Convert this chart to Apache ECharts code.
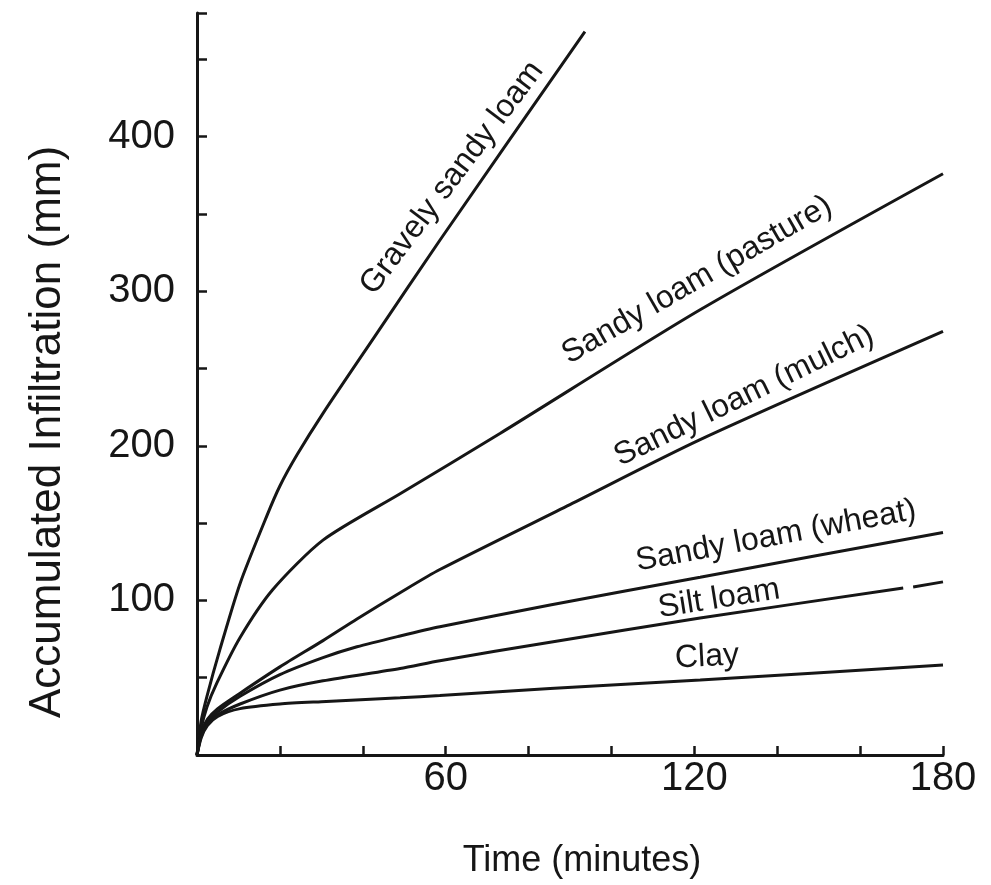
<!DOCTYPE html>
<html>
<head>
<meta charset="utf-8">
<script src="https://cdn.jsdelivr.net/npm/echarts@6/dist/echarts.min.js"></script>
<style>
html,body{margin:0;padding:0;background:#fff;}
#chart{width:991px;height:885px;}
</style>
</head>
<body>
<div id="chart"></div>
<script>
// ---- data (time in minutes, accumulated infiltration in mm) ----
const gravelyT = [0, 1, 2.4, 5.5, 10.4, 16.9, 20.0, 24.1, 30.4, 42.7, 58.6, 93.6];
const gravelyV = [0, 22, 38, 68, 111, 155, 174, 194, 221, 270, 333, 468];

const pastureT = [0, 1, 2.4, 4.8, 10.4, 18.3, 30.4, 49.0, 73.1, 121.4, 180];
const pastureV = [0, 17, 31, 46.6, 76, 107, 139, 169, 208, 288, 376];

const mulchT = [0, 1, 2.5, 5, 10.4, 20, 30.4, 38.6, 49, 58.6, 90, 121.4, 180];
const mulchV = [0, 14, 23, 30, 40, 57, 74, 88, 105, 120, 162, 204, 274];

const wheatT = [0, 1, 2.5, 5, 10.4, 20, 30.4, 38.6, 49, 58.6, 85.2, 121.4, 180];
const wheatV = [0, 13, 21, 28, 38, 52, 63, 70, 77, 83, 97, 115, 144];

const siltT = [0, 1, 2.5, 5, 10.4, 20, 30.4, 49, 58.6, 85.2, 121.4, 170.4];
const siltV = [0, 12, 20, 26, 33, 42, 48, 56, 61, 73, 88.6, 108];
const siltTailT = [172.8, 180];
const siltTailV = [108.7, 112];

const clayT = [0, 1, 2.5, 5, 10.4, 20, 30, 49, 58.6, 85.2, 121.4, 180];
const clayV = [0, 11, 19, 25, 30, 33, 34.5, 37, 38.5, 43, 48.5, 58.2];

const xTickLabels = [60, 120, 180];
const yTickLabels = [100, 200, 300, 400];

const curveNames = ['Gravely sandy loam', 'Sandy loam (pasture)', 'Sandy loam (mulch)',
                    'Sandy loam (wheat)', 'Silt loam', 'Clay'];

function pairs(t, v) { return t.map((x, i) => [x, v[i]]); }

const ink = '#161616';
const fontFam = '"Liberation Sans", Arial, Helvetica, sans-serif';

function lineSeries(name, t, v) {
  return {
    name: name, type: 'line', data: pairs(t, v),
    showSymbol: false, symbol: 'none',
    smooth: 0.25,
    lineStyle: { color: ink, width: 3 },
    silent: true, z: 3
  };
}

const chart = echarts.init(document.getElementById('chart'), null, { renderer: 'canvas' });

function curveLabel(text, x, y, deg) {
  return {
    type: 'text', x: x, y: y, rotation: deg * Math.PI / 180,
    style: { text: text, fill: ink, font: 'normal 32px ' + fontFam,
             textAlign: 'center', textVerticalAlign: 'middle' }
  };
}

const option = {
  backgroundColor: '#fff',
  animation: false,
  grid: { left: 197, right: 48, top: 13, bottom: 130, containLabel: false },
  xAxis: {
    type: 'value', min: 0, max: 180, interval: 20,
    axisLine: { show: true, lineStyle: { color: ink, width: 3 } },
    axisTick: { show: true, inside: true, length: 9, lineStyle: { color: ink, width: 2.5 } },
    splitLine: { show: false },
    axisLabel: {
      color: ink, fontSize: 40, fontFamily: fontFam, margin: 4,
      formatter: v => xTickLabels.indexOf(v) >= 0 ? String(v) : ''
    }
  },
  yAxis: {
    type: 'value', min: 0, max: 480, interval: 50,
    axisLine: { show: true, lineStyle: { color: ink, width: 3 } },
    axisTick: { show: true, inside: true, length: 10, lineStyle: { color: ink, width: 2.5 },
                customValues: [50, 100, 150, 200, 250, 300, 350, 400, 450, 480] },
    splitLine: { show: false },
    axisLabel: {
      color: ink, fontSize: 40, fontFamily: fontFam, margin: 22,
      customValues: yTickLabels
    }
  },
  graphic: [
    curveLabel(curveNames[0], 452, 178, 53),
    curveLabel(curveNames[1], 697, 280, 30),
    curveLabel(curveNames[2], 744, 396, 26),
    curveLabel(curveNames[3], 776, 536, 10.5),
    curveLabel(curveNames[4], 719, 599, 9),
    curveLabel(curveNames[5], 707, 657, 3),
    {
      type: 'text', x: 582, y: 861,
      style: { text: 'Time (minutes)', fill: ink, font: 'normal 36px ' + fontFam,
               textAlign: 'center', textVerticalAlign: 'middle' }
    },
    {
      type: 'text', x: 48, y: 432, rotation: Math.PI / 2,
      style: { text: 'Accumulated Infiltration (mm)', fill: ink, font: 'normal 44px ' + fontFam,
               textAlign: 'center', textVerticalAlign: 'middle' }
    }
  ],
  series: [
    lineSeries(curveNames[0], gravelyT, gravelyV),
    lineSeries(curveNames[1], pastureT, pastureV),
    lineSeries(curveNames[2], mulchT, mulchV),
    lineSeries(curveNames[3], wheatT, wheatV),
    lineSeries(curveNames[4], siltT, siltV),
    lineSeries(curveNames[4] + ' (end)', siltTailT, siltTailV),
    lineSeries(curveNames[5], clayT, clayV)
  ]
};
chart.setOption(option);
</script>
</body>
</html>
